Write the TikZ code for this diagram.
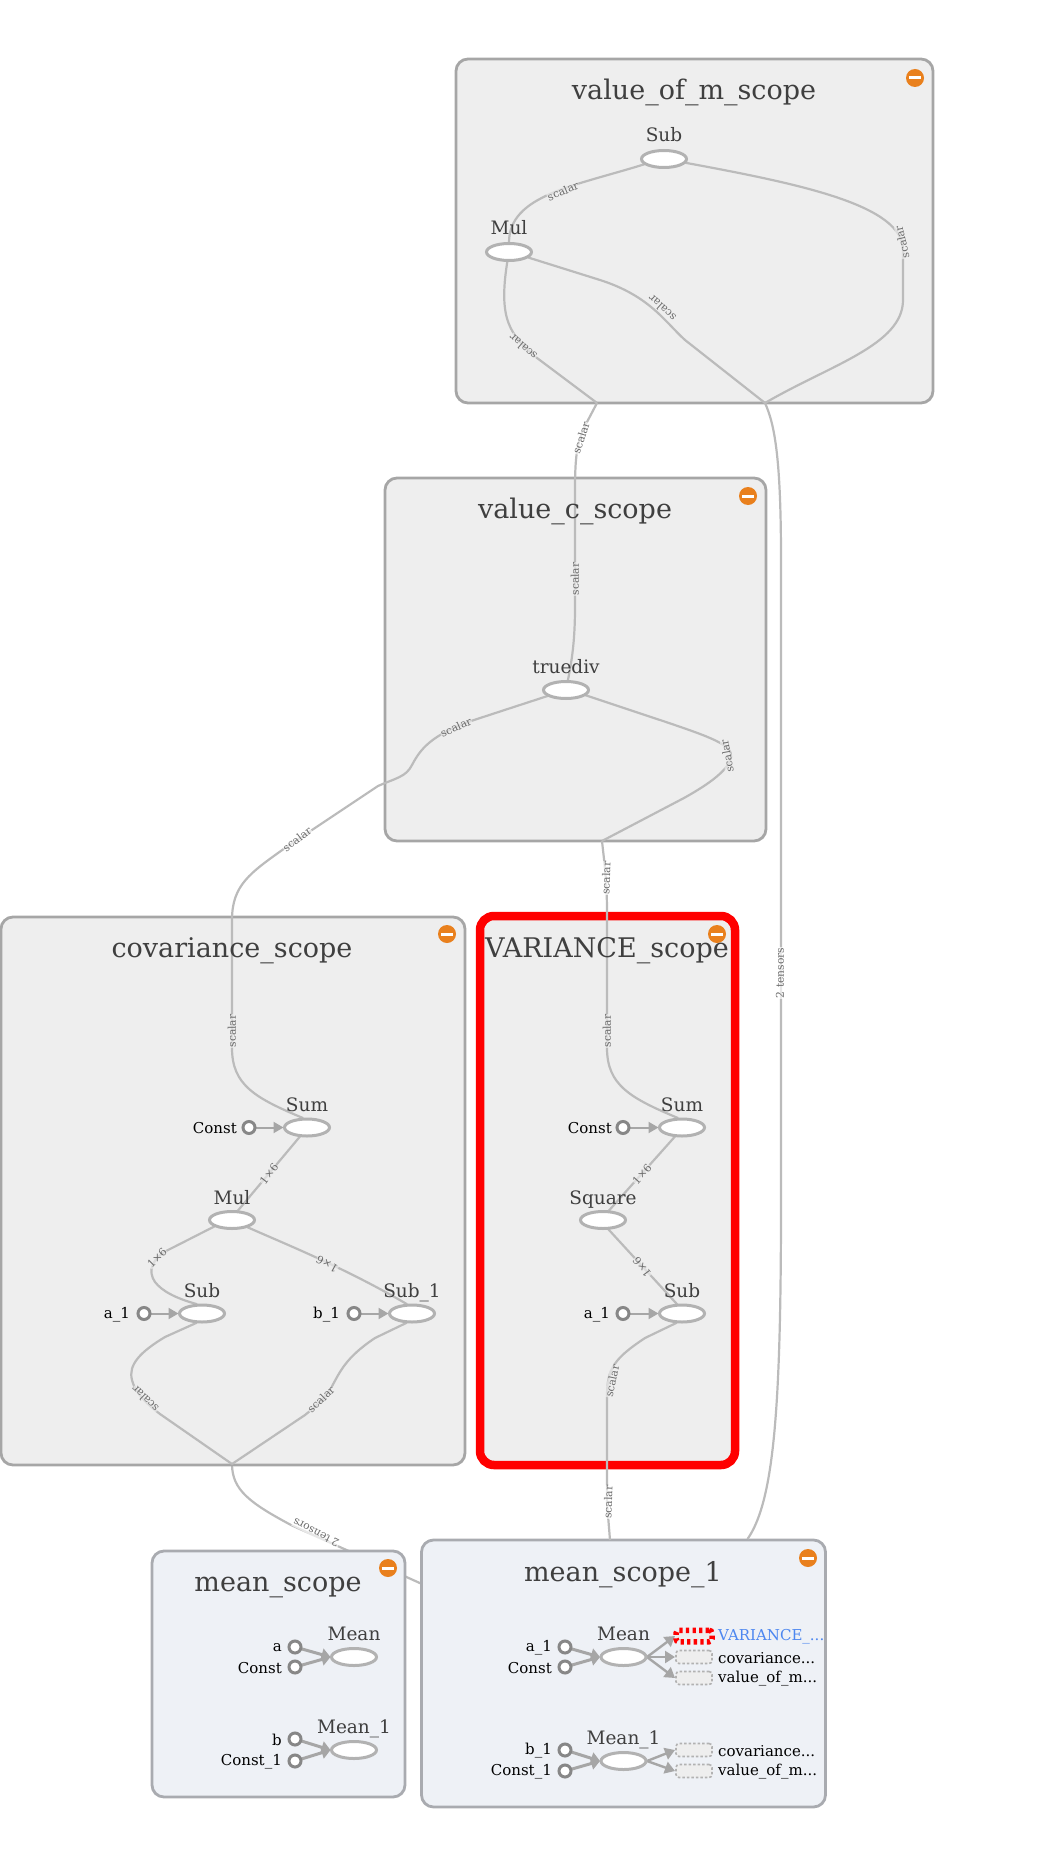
\documentclass[tikz,border=0pt]{standalone}
\usepackage{fontspec}
\setmainfont{DejaVu Serif}
\usetikzlibrary{arrows.meta,shapes.geometric}
\pgfdeclarelayer{bot}\pgfdeclarelayer{boxes}\pgfdeclarelayer{edges}
\pgfsetlayers{bot,boxes,edges,main}
\definecolor{bfill}{HTML}{EEEEEE}
\definecolor{bline}{HTML}{A6A6A6}
\definecolor{mfill}{HTML}{EEF1F6}
\definecolor{mline}{HTML}{A9ABB0}
\definecolor{edgec}{HTML}{BBBBBB}
\definecolor{opline}{HTML}{B2B2B2}
\definecolor{ink}{HTML}{3F3F3F}
\definecolor{elab}{HTML}{6A6A6A}
\definecolor{orng}{HTML}{E9801D}
\definecolor{blu}{HTML}{4D87F0}
\tikzset{
 x=1pt,y=-1pt,
 scopebox/.style={draw=bline,fill=bfill,line width=2.8pt,rounded corners=12pt,outer sep=0pt,inner sep=0pt},
 meanbox/.style={scopebox,draw=mline,fill=mfill},
 redbox/.style={scopebox,draw=red,line width=8.5pt,rounded corners=14pt},
 title/.style={text=ink,font=\fontsize{27}{30}\selectfont,anchor=base,inner sep=0pt,yshift=-1.5pt},
 oplabel/.style={text=ink,font=\fontsize{18.5}{20}\selectfont,anchor=base,inner sep=0pt,yshift=-1pt},
 op/.style={ellipse,draw=opline,fill=white,line width=3pt,minimum width=45pt,minimum height=17pt,inner sep=0pt,outer sep=1pt},
 src/.style={circle,draw=black!47,fill=white,line width=3pt,minimum size=12pt,inner sep=0pt,outer sep=1pt},
 srctext/.style={text=black,font=\fontsize{15}{18}\selectfont,anchor=east,inner sep=0pt,yshift=-1pt},
 edge/.style={draw=edgec,line width=2.2pt,line join=round},
 elabel/.style={text=elab,font=\fontsize{10.7}{12}\selectfont,inner sep=0.4pt,fill=bfill,fill opacity=.65,text opacity=1},
 elabelw/.style={elabel,fill=white},
 inarrow/.style={draw=bline,line width=2pt,-{Triangle[length=10pt,width=11pt]}},
 fatarrow/.style={draw=bline,line width=3pt,-{Triangle[length=9pt,width=12pt]}},
 outarrow/.style={draw=bline,line width=2.4pt,-{Triangle[length=10pt,width=12pt]}},
 minus/.style={circle,fill=orng,minimum size=18pt,inner sep=0pt},
 minusbar/.style={fill=white,minimum width=12pt,minimum height=3pt,inner sep=0pt},
 stub/.style={rectangle,rounded corners=3pt,draw=black!30,dash pattern=on 2.5pt off 2pt,line width=1.6pt,fill=bfill,minimum width=36pt,minimum height=13pt,inner sep=0pt,outer sep=1pt},
 redstub/.style={stub,draw=red,dash pattern=on 3.3pt off 3.3pt,line width=5.5pt,minimum height=11.5pt,fill=bfill},
}
\newcommand{\minusicon}[3]{\node[minus] (#1) at (#2,#3) {};\node[minusbar] (#1b) at (#2,#3) {};}
\begin{document}
\begin{tikzpicture}
\useasboundingbox (0,0) rectangle (1053,1867);
% scope boxes
\begin{pgfonlayer}{boxes}
\node[scopebox,minimum width=477pt,minimum height=344pt] (bm) at (694.5,231) {};
\node[scopebox,minimum width=381pt,minimum height=363pt] (bc) at (575.5,659.5) {};
\node[scopebox,minimum width=464pt,minimum height=548pt] (bcov) at (233,1191) {};
\node[redbox,minimum width=255pt,minimum height=549pt] (bvar) at (607.5,1190.5) {};
\node[meanbox,minimum width=404pt,minimum height=267pt] (bmean1) at (623.5,1673.5) {};
\coordinate (m1left) at (422,1584);
\end{pgfonlayer}
\begin{pgfonlayer}{bot}
\coordinate (j3) at (232,1464);
\draw[edge] (j3) .. controls (232,1490) and (250,1503) .. (291,1525) -- (m1left);
\end{pgfonlayer}
\begin{pgfonlayer}{boxes}
\node[meanbox,minimum width=253pt,minimum height=246pt] (bmean) at (278.5,1674) {};
\end{pgfonlayer}
\coordinate (j1) at (597,403);
\coordinate (j2) at (765,403);
\coordinate (j4) at (602,841);
\coordinate (m1a) at (610,1540);
\coordinate (m1b) at (747.5,1539);
% minus icons
\minusicon{mi1}{915}{78}
\minusicon{mi2}{748}{496}
\minusicon{mi3}{447}{934}
\minusicon{mi4}{717}{934}
\minusicon{mi5}{388}{1568}
\minusicon{mi6}{808}{1558}
% titles
\node[title] (t1) at (694,98) {value\_of\_m\_scope};
\node[title] (t2) at (575,517) {value\_c\_scope};
\node[title] (t3) at (232,955.5) {covariance\_scope};
\node[title] (t4) at (607,955.5) {VARIANCE\_scope};
\node[title] (t5) at (278,1590) {mean\_scope};
\node[title] (t6) at (623,1580) {mean\_scope\_1};
% value_of_m
\node[op] (msub) at (664,159) {}; \node[oplabel] (lmsub) at (664,141) {Sub};
\node[op] (mmul) at (509,252) {}; \node[oplabel] (lmmul) at (509,234) {Mul};
% value_c
\node[op] (cdiv) at (566,690) {}; \node[oplabel] (lcdiv) at (566,672) {truediv};
% covariance
\node[op] (vsum) at (307,1127.5) {}; \node[oplabel] (lvsum) at (307,1110) {Sum};
\node[op] (vmul) at (232,1220) {}; \node[oplabel] (lvmul) at (232,1203) {Mul};
\node[op] (vsub) at (202,1313.5) {}; \node[oplabel] (lvsub) at (202,1296) {Sub};
\node[op] (vsub1) at (412,1313.5) {}; \node[oplabel] (lvsub1) at (412,1296) {Sub\_1};
\node[src] (vconst) at (249,1127.5) {}; \node[srctext] (lvconst) at (237,1127.5) {Const};
\node[src] (va) at (144,1313.5) {}; \node[srctext] (lva) at (130,1313.5) {a\_1};
\node[src] (vb) at (354,1313.5) {}; \node[srctext] (lvb) at (340,1313.5) {b\_1};
% variance
\node[op] (ssum) at (682,1127.5) {}; \node[oplabel] (lssum) at (682,1110) {Sum};
\node[op] (ssq) at (603,1220) {}; \node[oplabel] (lssq) at (603,1203) {Square};
\node[op] (ssub) at (682,1313.5) {}; \node[oplabel] (lssub) at (682,1296) {Sub};
\node[src] (sconst) at (623,1127.5) {}; \node[srctext] (lsconst) at (612,1127.5) {Const};
\node[src] (sa) at (623,1313.5) {}; \node[srctext] (lsa) at (610,1313.5) {a\_1};
% mean_scope
\node[op] (nmean) at (354,1657) {}; \node[oplabel] (lnmean) at (354,1639) {Mean};
\node[op] (nmean1) at (354,1750) {}; \node[oplabel] (lnmean1) at (354,1732) {Mean\_1};
\node[src] (na) at (295,1647) {}; \node[srctext] (lna) at (282,1647) {a};
\node[src] (nc) at (295,1667) {}; \node[srctext] (lnc) at (282,1667) {Const};
\node[src] (nb) at (295,1739) {}; \node[srctext] (lnb) at (282,1739) {b};
\node[src] (nc1) at (295,1761) {}; \node[srctext] (lnc1) at (282,1761) {Const\_1};
% mean_scope_1
\node[op] (omean) at (623.5,1657) {}; \node[oplabel] (lomean) at (623.5,1639) {Mean};
\node[op] (omean1) at (623.5,1761) {}; \node[oplabel] (lomean1) at (623.5,1743) {Mean\_1};
\node[src] (oa) at (565,1647) {}; \node[srctext] (loa) at (552,1647) {a\_1};
\node[src] (oc) at (565,1667) {}; \node[srctext] (loc) at (552,1667) {Const};
\node[src] (ob) at (565,1750) {}; \node[srctext] (lob) at (552,1750) {b\_1};
\node[src] (oc1) at (565,1771) {}; \node[srctext] (loc1) at (552,1771) {Const\_1};
\node[redstub] (x1) at (694,1636) {};
\node[stub] (x2) at (694,1657) {};
\node[stub] (x3) at (694,1678) {};
\node[stub] (x4) at (694,1750) {};
\node[stub] (x5) at (694,1771) {};
\node[srctext,anchor=west,text=blu] (lx1) at (718,1636) {VARIANCE\_...};
\node[srctext,anchor=west] (lx2) at (718,1657) {covariance...};
\node[srctext,anchor=west] (lx3) at (718,1678) {value\_of\_m...};
\node[srctext,anchor=west] (lx4) at (718,1750) {covariance...};
\node[srctext,anchor=west] (lx5) at (718,1771) {value\_of\_m...};
% edge labels
\node[elabel,rotate=23] (e1) at (563,191) {scalar};
\node[elabel,rotate=103] (e2) at (902,242) {scalar};
\node[elabel,rotate=139] (e3) at (523,347) {scalar};
\node[elabel,rotate=138] (e4) at (662,308) {scalar};
\node[elabelw,rotate=72] (e5) at (581,438) {scalar};
\node[elabel,rotate=90] (e6) at (575,579) {scalar};
\node[elabel,rotate=24] (e7) at (456,727) {scalar};
\node[elabel,rotate=100] (e8) at (727,756) {scalar};
\node[elabelw,rotate=37] (e9) at (297,839) {scalar};
\node[elabelw,rotate=88] (e10) at (606,878) {scalar};
\node[elabel,rotate=90] (e11) at (232,1031) {scalar};
\node[elabel,rotate=90] (e12) at (607,1031) {scalar};
\node[elabel,rotate=52] (e13) at (269,1174) {1×6};
\node[elabel,rotate=48] (e14) at (642,1174) {1×6};
\node[elabel,rotate=45] (e15) at (157,1258) {1×6};
\node[elabel,rotate=151] (e16) at (327,1264) {1×6};
\node[elabel,rotate=127] (e17) at (642,1267) {1×6};
\node[elabel,rotate=135] (e18) at (145,1399) {scalar};
\node[elabel,rotate=44] (e19) at (321,1399.5) {scalar};
\node[elabel,rotate=78] (e20) at (612,1381) {scalar};
\node[elabelw,rotate=88] (e21) at (608,1502) {scalar};
\node[elabelw,rotate=90] (e22) at (780,973) {2 tensors};
\node[elabelw,rotate=153] (e23) at (316,1533) {2 tensors};
% edges
\begin{pgfonlayer}{edges}
\draw[edge] (msub.195) .. controls (575,186) and (509,195) .. (mmul.90);
\draw[edge] (msub.350) .. controls (800,184) and (903,205) .. (903,250) -- (903,300) .. controls (903,345) and (830,365) .. (j2);
\draw[edge] (mmul.260) .. controls (498,320) and (510,335) .. (537,358) -- (j1);
\draw[edge] (mmul.344) -- (600,280) .. controls (650,296) and (665,322) .. (685,340) -- (j2);
\draw[edge] (j1) -- (587,422) .. controls (578,440) and (575,450) .. (575,490) -- (575,607) .. controls (575,640) and (572,660) .. (cdiv.79);
\draw[edge] (cdiv.198) -- (474,720) .. controls (430,735) and (420,750) .. (412,765) .. controls (406,777) and (396,778) .. (378,786) -- (285,848) .. controls (250,873) and (232,885) .. (232,920) -- (232,1048) .. controls (232,1085) and (255,1098) .. (vsum.112);
\draw[edge] (cdiv.345) -- (666,722) .. controls (710,737) and (733,745) .. (731,757) .. controls (729,772) and (700,789) .. (684,798) -- (j4);
\draw[edge] (j4) .. controls (604,860) and (607,880) .. (607,912) -- (607,1048) .. controls (607,1085) and (630,1098) .. (ssum.112);
\draw[edge] (vsum.232) -- (vmul.58);
\draw[edge] (vmul.200) -- (172,1248) .. controls (150,1258) and (148,1272) .. (155,1282) .. controls (162,1291) and (175,1298) .. (vsub.118);
\draw[edge] (vmul.335) .. controls (290,1246) and (345,1268) .. (vsub1.118);
\draw[edge] (vsub.240) -- (165,1337) .. controls (140,1352) and (128,1365) .. (132,1380) .. controls (135,1393) and (148,1405) .. (160,1414) -- (j3);
\draw[edge] (vsub1.240) -- (375,1338) .. controls (345,1358) and (340,1372) .. (331,1388) .. controls (325,1398) and (315,1407) .. (305,1415) -- (j3);
\draw[edge] (ssum.232) -- (ssq.58);
\draw[edge] (ssq.300) -- (ssub.118);
\draw[edge] (ssub.240) -- (645,1338) .. controls (615,1358) and (607,1368) .. (607,1396) -- (607,1503) -- (m1a);
\draw[edge] (j2) .. controls (775,425) and (781,460) .. (781,560) -- (781,1200) .. controls (781,1400) and (775,1500) .. (m1b);
\draw[inarrow] (vconst) -- (vsum);
\draw[inarrow] (va) -- (vsub);
\draw[inarrow] (vb) -- (vsub1);
\draw[inarrow] (sconst) -- (ssum);
\draw[inarrow] (sa) -- (ssub);
\draw[fatarrow] (na) -- (nmean.west);
\draw[fatarrow] (nc) -- (nmean.west);
\draw[fatarrow] (nb) -- (nmean1.west);
\draw[fatarrow] (nc1) -- (nmean1.west);
\draw[fatarrow] (oa) -- (omean.west);
\draw[fatarrow] (oc) -- (omean.west);
\draw[fatarrow] (ob) -- (omean1.west);
\draw[fatarrow] (oc1) -- (omean1.west);
\draw[outarrow] (omean.east) -- (x1.west);
\draw[outarrow] (omean.east) -- (x2.west);
\draw[outarrow] (omean.east) -- (x3.west);
\draw[outarrow] (omean1.east) -- (x4.west);
\draw[outarrow] (omean1.east) -- (x5.west);
\end{pgfonlayer}
\end{tikzpicture}
\end{document}
